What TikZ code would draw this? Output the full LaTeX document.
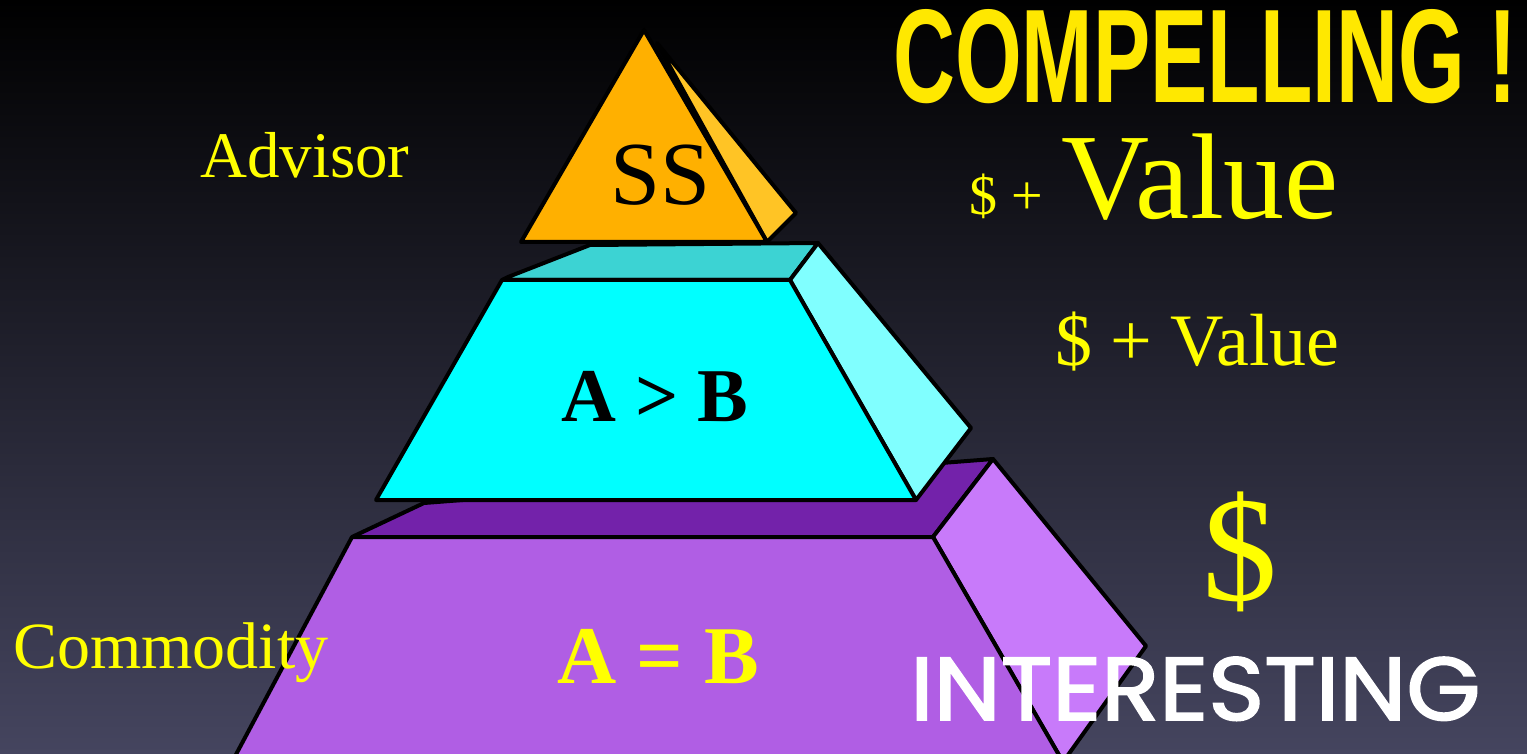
\documentclass[tikz,border=0pt]{standalone}
\usepackage{fontspec}
\usepackage{graphicx}
\setmainfont{Liberation Serif}
\newfontfamily\headfont{Liberation Sans}
\newfontfamily\notefont[FakeBold=2]{Poppins}

\tikzset{
    face/.style={draw=black, line width=4pt, line join=round},
    label/.style={inner sep=0pt, anchor=base west, text=labelYellow},
}

\begin{document}
\begin{tikzpicture}[x=1pt, y=-1pt]
    % Define colours
    \definecolor{bgMid}{HTML}{0E0C30}
    \definecolor{bgBottom}{HTML}{45455F}
    \definecolor{labelYellow}{HTML}{FFFF00}
    \definecolor{headYellow}{HTML}{FFE800}
    \definecolor{topFront}{HTML}{FFB000}
    \definecolor{topSide}{HTML}{FFC425}
    \definecolor{midTop}{HTML}{3CD3D3}
    \definecolor{midFront}{HTML}{00FFFF}
    \definecolor{midSide}{HTML}{80FFFF}
    \definecolor{baseTop}{HTML}{7322AA}
    \definecolor{baseFront}{HTML}{B05EE4}
    \definecolor{baseSide}{HTML}{C87AFA}

    % Background
    \useasboundingbox (0,0) rectangle (1527,754);
    \clip (0,0) rectangle (1527,754);
    \shade[top color=black, middle color=bgMid, bottom color=bgBottom] (0,0) rectangle (1527,754);

    % Define coordinates for the base block
    \coordinate (B1) at (232,762);
    \coordinate (B2) at (352,537);
    \coordinate (B3) at (933,537);
    \coordinate (B4) at (1063,762);
    \coordinate (B5) at (424,503);
    \coordinate (B6) at (993,459);
    \coordinate (B7) at (1146,646);

    % Draw the base block
    \filldraw[face, fill=baseTop] (B2) -- (B5) -- (B6) -- (B3) -- cycle;
    \filldraw[face, fill=baseSide] (B3) -- (B6) -- (B7) -- (B4) -- cycle;
    \filldraw[face, fill=baseFront] (B1) -- (B2) -- (B3) -- (B4) -- cycle;

    % Define coordinates for the middle block
    \coordinate (M1) at (376,500);
    \coordinate (M2) at (502,280);
    \coordinate (M3) at (790,280);
    \coordinate (M4) at (916,500);
    \coordinate (M5) at (508,277);
    \coordinate (M6) at (590,245);
    \coordinate (M7) at (818,243);
    \coordinate (M8) at (971,428);

    % Draw the middle block
    \filldraw[face, fill=midTop] (M5) -- (M6) -- (M7) -- (M3) -- (M2) -- cycle;
    \filldraw[face, fill=midSide] (M3) -- (M7) -- (M8) -- (M4) -- cycle;
    \filldraw[face, fill=midFront] (M1) -- (M2) -- (M3) -- (M4) -- cycle;

    % Define coordinates for the top pyramid
    \coordinate (T1) at (521,242);
    \coordinate (T2) at (644,30);
    \coordinate (T3) at (767,242);
    \coordinate (T4) at (657,43);
    \coordinate (T5) at (796,213);

    % Draw the top pyramid
    \filldraw[face, fill=topSide] (T4) -- (T5) -- (T3) -- cycle;
    \filldraw[face, fill=topFront] (T1) -- (T2) -- (T3) -- cycle;

    % Labels on the blocks
    \node[inner sep=0pt, anchor=base] (ss) at (661,205) {\fontsize{90}{100}\selectfont SS};
    \node[inner sep=0pt, anchor=base] (greater) at (655,421) {\fontsize{76}{84}\selectfont\bfseries A > B};
    \node[inner sep=0pt, anchor=base, text=labelYellow] (equal) at (658,683) {\fontsize{82}{90}\selectfont\bfseries A = B};

    % Labels on the left
    \node[label] (advisor) at (200,178) {\fontsize{65}{72}\selectfont Advisor};
    \node[label] (commodity) at (13,668) {\fontsize{66}{72}\selectfont Commodity};

    % Labels on the right
    \node[inner sep=0pt, anchor=base west, text=headYellow] (compelling) at (893,103)
        {\resizebox{624pt}{93pt}{\headfont\bfseries COMPELLING !}};
    \node[label] (plusSmall) at (969,215) {\fontsize{56}{60}\selectfont \$ +};
    \node[label] (valueBig) at (1061,219) {\fontsize{122}{130}\selectfont Value};
    \node[label] (valueMid) at (1055,365) {\fontsize{74}{82}\selectfont \$ + Value};
    \node[inner sep=0pt, anchor=base, text=labelYellow] (dollar) at (1240,600) {\fontsize{150}{160}\selectfont \$};
    \node[inner sep=0pt, anchor=base west, text=white] (interesting) at (910,720)
        {\resizebox{570pt}{63pt}{\notefont INTERESTING}};

\end{tikzpicture}
\end{document}
